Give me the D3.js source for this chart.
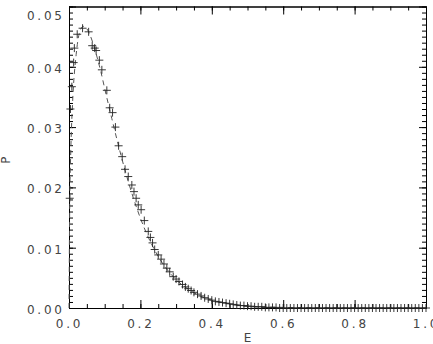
<!DOCTYPE html>
<html>
<head>
<meta charset="utf-8">
<script src="https://cdn.jsdelivr.net/npm/d3@7"></script>
<style>
  body { margin: 0; background: #fff; }
  svg { display: block; }
  .tick text, .axisText { font-family: "DejaVu Sans", sans-serif; fill: #444; letter-spacing: 2.8px; }
</style>
</head>
<body>
<div id="plot"></div>
<script>
// measured points (crosses)
var crossE = [0.002, 0.004, 0.008, 0.013, 0.015, 0.023, 0.038, 0.055, 0.065, 0.072,
  0.076, 0.085, 0.092, 0.106, 0.114, 0.122, 0.130, 0.139, 0.149, 0.157,
  0.166, 0.176, 0.182, 0.188, 0.194, 0.202, 0.211, 0.222, 0.228, 0.234,
  0.240, 0.250, 0.258, 0.266, 0.274, 0.282, 0.292, 0.300, 0.308, 0.318,
  0.326, 0.334, 0.342, 0.350, 0.36, 0.37, 0.38, 0.39, 0.40, 0.41,
  0.42, 0.43, 0.44, 0.45, 0.46, 0.47, 0.48, 0.49, 0.50, 0.51,
  0.52, 0.53, 0.54, 0.55, 0.56, 0.57, 0.58, 0.59, 0.60, 0.61,
  0.62, 0.63, 0.64, 0.65, 0.66, 0.67, 0.68, 0.69, 0.70, 0.71,
  0.72, 0.73, 0.74, 0.75, 0.76, 0.77, 0.78, 0.79, 0.80, 0.81,
  0.82, 0.83, 0.84, 0.85, 0.86, 0.87, 0.88, 0.89, 0.90, 0.91,
  0.92, 0.93, 0.94, 0.95, 0.96, 0.97, 0.98, 0.99, 1.00];
var crossP = [0.0182, 0.0330, 0.0367, 0.0407, 0.0431, 0.0454, 0.0464, 0.0458, 0.0435, 0.0431,
  0.0427, 0.0411, 0.0395, 0.0361, 0.0332, 0.0324, 0.0300, 0.0269, 0.0251, 0.0230,
  0.0218, 0.0204, 0.0193, 0.0182, 0.0171, 0.0163, 0.0145, 0.0127, 0.0117, 0.0108,
  0.0097, 0.0088, 0.0081, 0.0073, 0.0066, 0.0060, 0.0052, 0.0048, 0.0044, 0.0039,
  0.0035, 0.0032, 0.0029, 0.0026, 0.0023, 0.0020, 0.0017, 0.0015, 0.0013, 0.0011,
  0.0010, 0.0009, 0.0008, 0.0007, 0.0006, 0.0005, 0.0004, 0.0004, 0.0003, 0.0003,
  0.0002, 0.0002, 0.0002, 0.0001, 0.0001, 0.0001, 0.0001, 0.0, 0.0, 0.0,
  0.0, 0.0, 0.0, 0.0, 0.0, 0.0, 0.0, 0.0, 0.0, 0.0,
  0.0, 0.0, 0.0, 0.0, 0.0, 0.0, 0.0, 0.0, 0.0, 0.0,
  0.0, 0.0, 0.0, 0.0, 0.0, 0.0, 0.0, 0.0, 0.0, 0.0,
  0.0, 0.0, 0.0, 0.0, 0.0, 0.0, 0.0, 0.0, 0.0];

// dashed model curve
var curveE = [0.0, 0.002, 0.005, 0.01, 0.02, 0.03, 0.04, 0.05, 0.06, 0.07,
  0.08, 0.09, 0.10, 0.12, 0.14, 0.16, 0.18, 0.20, 0.22, 0.24,
  0.26, 0.28, 0.30, 0.33, 0.36, 0.40, 0.45, 0.50, 0.60, 0.70, 0.80, 1.00];
var curveP = [0.0, 0.0170, 0.0260, 0.0340, 0.0420, 0.0458, 0.0467, 0.0463, 0.0451, 0.0434,
  0.0413, 0.0390, 0.0364, 0.0314, 0.0266, 0.0222, 0.0183, 0.0149, 0.0120, 0.0096,
  0.0076, 0.0060, 0.0047, 0.0033, 0.0022, 0.0013, 0.0007, 0.0003, 0.0001, 0.00003, 0.0, 0.0];

var xMajor = [0, 0.2, 0.4, 0.6, 0.8, 1.0];
var yMajor = [0, 0.01, 0.02, 0.03, 0.04, 0.05];

var svgWidth = 433, svgHeight = 344;
var margin = { top: 6.5, right: 7, bottom: 36, left: 69 };
var width = svgWidth - margin.left - margin.right;
var height = svgHeight - margin.top - margin.bottom;

var svg = d3.select("#plot").append("svg")
  .attr("width", svgWidth)
  .attr("height", svgHeight);

var chartGroup = svg.append("g")
  .attr("transform", `translate(${margin.left}, ${margin.top})`);

var xScale = d3.scaleLinear().domain([0, 1]).range([0, width]);
var yScale = d3.scaleLinear().domain([0, 0.05]).range([height, 0]);

var xMinor = d3.range(0, 1.0001, 0.05);
var yMinor = d3.range(0, 0.05001, 0.001);

// ticks point inward, IDL style
function styleAxis(g) {
  g.selectAll(".tick line").attr("stroke", "#000");
  g.select(".domain").attr("stroke", "#000");
  g.selectAll(".tick text").attr("font-size", 12).attr("font-family", "DejaVu Sans").attr("fill", "#444");
}

// bottom
chartGroup.append("g").attr("transform", `translate(0, ${height})`)
  .call(d3.axisBottom(xScale).tickValues(xMinor).tickSize(-4).tickSizeOuter(0).tickFormat(""))
  .call(styleAxis);
chartGroup.append("g").attr("transform", `translate(0, ${height})`)
  .call(d3.axisBottom(xScale).tickValues(xMajor).tickSize(-8).tickSizeOuter(0).tickPadding(11.5).tickFormat(d3.format(".1f")))
  .call(styleAxis);
// top
chartGroup.append("g")
  .call(d3.axisTop(xScale).tickValues(xMinor).tickSize(-4).tickSizeOuter(0).tickFormat(""))
  .call(styleAxis);
chartGroup.append("g")
  .call(d3.axisTop(xScale).tickValues(xMajor).tickSize(-8).tickSizeOuter(0).tickFormat(""))
  .call(styleAxis);
// left
chartGroup.append("g")
  .call(d3.axisLeft(yScale).tickValues(yMinor).tickSize(-4).tickSizeOuter(0).tickFormat(""))
  .call(styleAxis);
var yAxisG = chartGroup.append("g")
  .call(d3.axisLeft(yScale).tickValues(yMajor).tickSize(-7).tickSizeOuter(0).tickPadding(4.2).tickFormat(d3.format(".2f")))
  .call(styleAxis);
yAxisG.selectAll(".tick text").attr("dy", function(d) {
  // keep the top label inside the picture
  return yScale(d) + margin.top < 8 ? "1.05em" : "0.45em";
});
// right
chartGroup.append("g").attr("transform", `translate(${width}, 0)`)
  .call(d3.axisRight(yScale).tickValues(yMinor).tickSize(-4).tickSizeOuter(0).tickFormat(""))
  .call(styleAxis);
chartGroup.append("g").attr("transform", `translate(${width}, 0)`)
  .call(d3.axisRight(yScale).tickValues(yMajor).tickSize(-7).tickSizeOuter(0).tickFormat(""))
  .call(styleAxis);

// dashed curve
var curveData = curveE.map((e, i) => ({ e: e, p: curveP[i] }));
var line = d3.line().x(d => xScale(d.e)).y(d => yScale(d.p)).curve(d3.curveMonotoneX);
chartGroup.append("path")
  .datum(curveData)
  .attr("d", line)
  .attr("fill", "none")
  .attr("stroke", "#555")
  .attr("stroke-width", 1)
  .attr("stroke-dasharray", "5,4");

// crosses
var crossData = crossE.map((e, i) => ({ e: e, p: crossP[i] }));
chartGroup.selectAll("path.pt")
  .data(crossData)
  .join("path")
  .attr("class", "pt")
  .attr("transform", d => `translate(${xScale(d.e)}, ${yScale(d.p)})`)
  .attr("d", "M-4,0H4M0,-4V4")
  .attr("stroke", "#222")
  .attr("stroke-width", 0.9)
  .attr("fill", "none");

// axis labels
svg.append("text")
  .attr("class", "axisText")
  .attr("x", margin.left + width / 2 + 1.4)
  .attr("y", 342)
  .attr("text-anchor", "middle")
  .attr("font-size", 12)
  .text("E");
svg.append("text")
  .attr("class", "axisText")
  .attr("transform", `translate(10, ${margin.top + height / 2 + 1.4}) rotate(-90)`)
  .attr("text-anchor", "middle")
  .attr("font-size", 12)
  .text("P");
</script>
</body>
</html>
